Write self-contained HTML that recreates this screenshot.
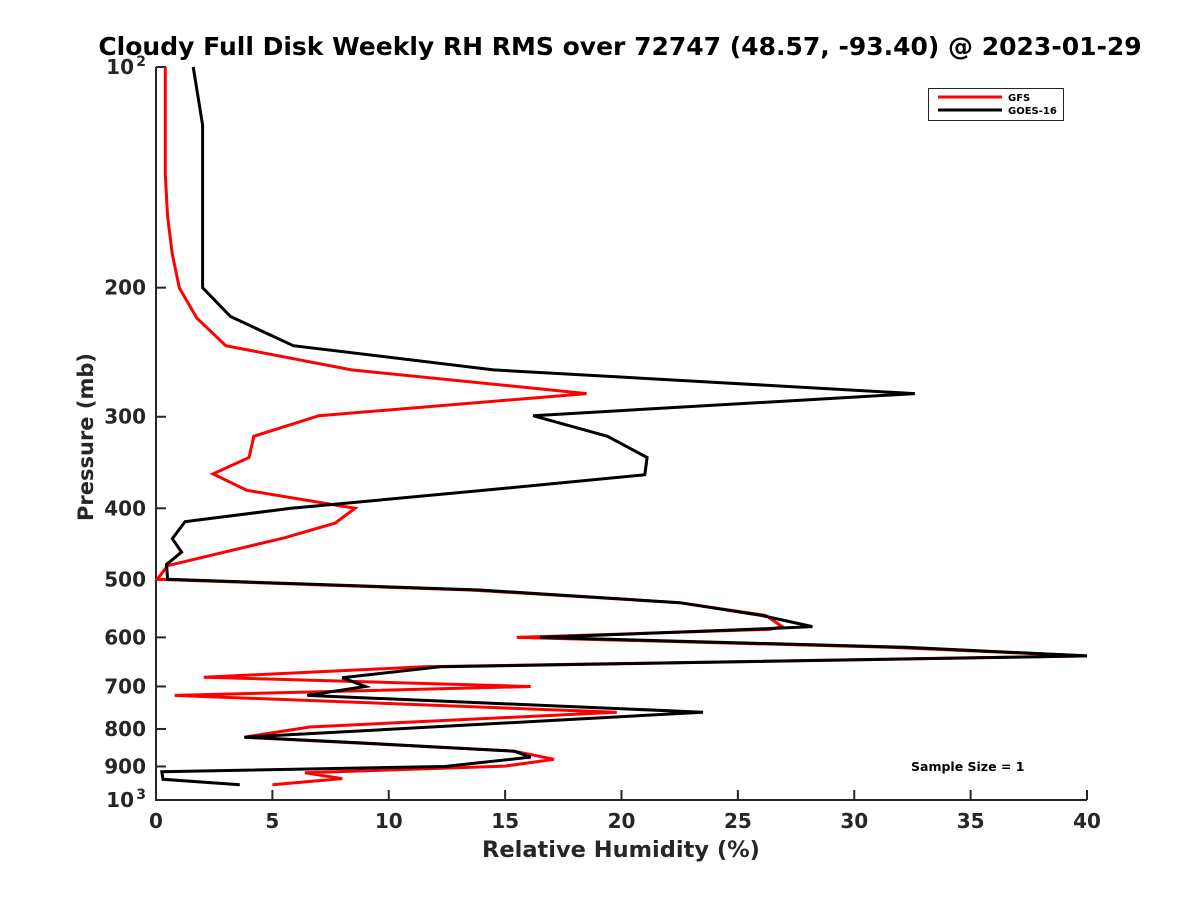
<!DOCTYPE html>
<html><head><meta charset="utf-8"><style>
body{margin:0;background:#fff;}
svg{display:block;font-family:"DejaVu Sans","Liberation Sans",sans-serif;}
</style></head><body>
<svg id="chart" width="1200" height="900" viewBox="0 0 1200 900">
<rect width="1200" height="900" fill="#fff"/>
<text x="620" y="55" text-anchor="middle" font-size="25" font-weight="bold" fill="#000">Cloudy Full Disk Weekly RH RMS over 72747 (48.57, -93.40) @ 2023-01-29</text>
<g id="axes"></g>
<g id="series"></g>
<text x="621" y="857" text-anchor="middle" font-size="22.5" font-weight="bold" fill="#262626">Relative Humidity (%)</text>
<text transform="translate(93,437) rotate(-90)" text-anchor="middle" font-size="21" font-weight="bold" fill="#262626">Pressure (mb)</text>
<g>
<rect x="928.5" y="88.5" width="135" height="32" fill="#fff" stroke="#262626" stroke-width="1"/>
<line x1="938" y1="97" x2="1002" y2="97" stroke="#ff0000" stroke-width="3"/>
<text x="1008" y="101" font-size="10" font-weight="bold">GFS</text>
<line x1="938" y1="110" x2="1002" y2="110" stroke="#000" stroke-width="3"/>
<text x="1008" y="114" font-size="10" font-weight="bold">GOES-16</text>
</g>
<text x="911" y="771" font-size="12.5" font-weight="bold">Sample Size = 1</text>
</svg>
<script>
const xTicks = [0,5,10,15,20,25,30,35,40];
const yTicks = [100,200,300,400,500,600,700,800,900,1000];
const gfsRH = [0.4,0.4,0.5,0.7,1.0,1.75,3.0,8.4,18.5,7.0,4.2,4.0,2.45,3.9,8.55,7.7,5.5,0.5,0.05,13.5,22.5,26.2,26.9,26.4,15.5,31.5,40,11.5,2.05,16.1,0.8,19.8,6.6,3.8,8.3,15.4,17.1,15.0,6.4,8.0,5.0];
const gfsP = [100,140,160,180,200,220,240,259,279,299,319,341,359,378,400,419,439,479,500,517,538,560,580,585,600,619,636,658,680,700,720,759,795,821,835,858,880,899,918,935,953];
const goesRH = [1.6,2.0,2.0,3.2,5.9,14.5,32.6,16.2,19.4,21.1,21.0,14.1,5.8,1.25,0.7,1.1,0.45,0.5,13.9,22.5,26.0,28.2,25.6,16.5,32.2,40,12.2,8.0,9.0,6.5,23.5,3.8,8.6,15.4,16.1,12.4,0.25,0.3,3.6];
const goesP = [100,120,200,219,240,259,279,299,319,341,360,378,400,417,440,459,477,500,517,538,560,580,585,600,619,636,658,681,700,720,759,821,835,858,874,900,915,937,953];

const X0=156,X1=1087,Y0=67,Y1=800;
const NS='http://www.w3.org/2000/svg';
const xs=v=>X0+(v-0)/(40-0)*(X1-X0);
const ys=p=>Y0+(Math.log10(p)-2)/(3-2)*(Y1-Y0);
function mk(t,a,parent){const e=document.createElementNS(NS,t);for(const k in a)e.setAttribute(k,a[k]);parent.appendChild(e);return e;}
const axes=document.getElementById('axes');
const ax=mk('path',{d:`M${X0} ${Y0}V${Y1}H${X1}`,fill:'none',stroke:'#262626','stroke-width':2},axes);


xTicks.forEach(v=>{
  const x=xs(v);
  const t=mk('line',{x1:x,x2:x,y1:Y1,y2:Y1-10,stroke:'#262626','stroke-width':2},axes);
  
  
  const l=mk('text',{x:x,y:Y1+28,'text-anchor':'middle','font-size':20,'font-weight':'bold',fill:'#262626'},axes);
  l.textContent=v;
  
  
});
yTicks.forEach(p=>{
  const y=ys(p);
  const t=mk('line',{x1:X0,x2:X0+10,y1:y,y2:y,stroke:'#262626','stroke-width':2},axes);
  
  
  const l=mk('text',{x:X0-10,y:y+7,'text-anchor':'end','font-size':20,'font-weight':'bold',fill:'#262626'},axes);
  if(p===100||p===1000){
    l.textContent='10';
    const s=mk('tspan',{dy:-8,'font-size':14},l);s.textContent=p===100?'2':'3';
    l.setAttribute('x',X0-22);
    s.setAttribute('x',X0-22+12);
    l.setAttribute('text-anchor','end');
  } else l.textContent=p;
  
  
});
const sg=document.getElementById('series');
function line(rh,p,color,name){
  const d=rh.map((v,i)=>(i?'L':'M')+xs(v).toFixed(1)+' '+ys(p[i]).toFixed(1)).join('');
  const e=mk('path',{d:d,fill:'none',stroke:color,'stroke-width':3,'stroke-linejoin':'miter'},sg);
  
  
}
line(gfsRH,gfsP,'#ff0000','gfs-line');
line(goesRH,goesP,'#000','goes16-line');
</script>
</body></html>
